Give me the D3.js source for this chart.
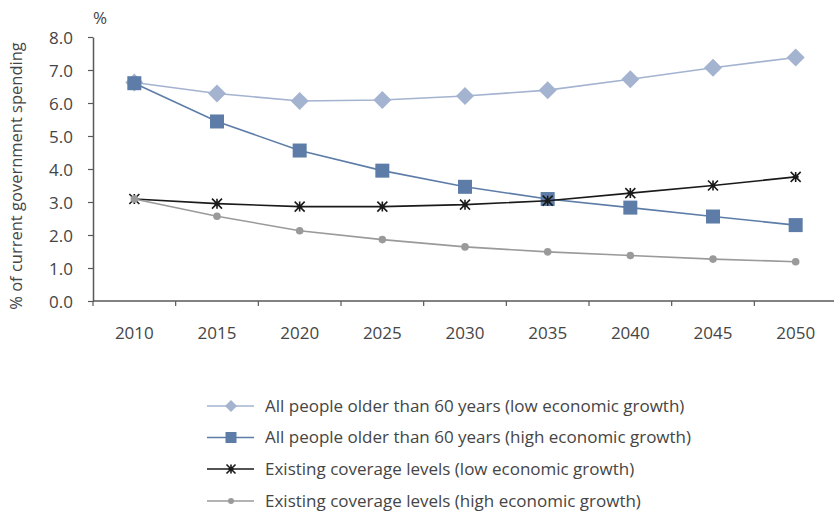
<!DOCTYPE html>
<html><head><meta charset="utf-8">
<script src="https://cdn.jsdelivr.net/npm/d3@7"></script>
<style>
body{margin:0;background:#fff;}
text{font-family:"Open Sans",sans-serif;fill:#454545;}
</style></head>
<body><svg id="c" width="834" height="513"></svg>
<script>
const years = ["2010","2015","2020","2025","2030","2035","2040","2045","2050"];
const allLow = [6.62,6.29,6.06,6.09,6.21,6.39,6.72,7.07,7.38];
const allHigh = [6.60,5.44,4.56,3.95,3.46,3.09,2.83,2.56,2.30];
const existLow = [3.09,2.95,2.86,2.86,2.92,3.04,3.27,3.50,3.76];
const existHigh = [3.09,2.57,2.13,1.86,1.64,1.49,1.38,1.27,1.19];
const yTicks = [0,1,2,3,4,5,6,7,8];
const seriesNames = [
  "All people older than 60 years (low economic growth)",
  "All people older than 60 years (high economic growth)",
  "Existing coverage levels (low economic growth)",
  "Existing coverage levels (high economic growth)"
];
const series = [
  {name:seriesNames[0], values:allLow, color:"#a3b3d0", marker:"diamond"},
  {name:seriesNames[1], values:allHigh, color:"#5d7da8", marker:"square"},
  {name:seriesNames[2], values:existLow, color:"#1a1a1a", marker:"star"},
  {name:seriesNames[3], values:existHigh, color:"#9a9a9a", marker:"circle"}
];

const svg = d3.select("#c");
const x = d3.scaleBand().domain(years).range([93,837]);
const y = d3.scaleLinear().domain([0,8]).range([301,37]);

// axes
const yAxis = d3.axisLeft(y).tickValues(yTicks).tickFormat(d3.format(".1f")).tickSize(5).tickSizeOuter(0);
const gy = svg.append("g").attr("transform","translate(93,0)").call(yAxis);
gy.select(".domain").attr("stroke","#595959").attr("stroke-width",1.5);
gy.selectAll(".tick line").attr("stroke","#595959").attr("stroke-width",1.2);
gy.selectAll(".tick text").attr("x",-20).attr("dy","0.36em").style("font-size","17px").attr("fill","#454545").style("font-family","'Open Sans',sans-serif");

const gx = svg.append("g").attr("transform","translate(0,301)");
gx.append("line").attr("x1",93).attr("x2",834).attr("y1",0).attr("y2",0).attr("stroke","#595959").attr("stroke-width",1.5);
gx.selectAll("line.t").data(years).join("line").attr("class","t")
  .attr("x1",d=>x(d)).attr("x2",d=>x(d)).attr("y1",0).attr("y2",5).attr("stroke","#595959").attr("stroke-width",1.2);
gx.selectAll("text").data(years).join("text")
  .attr("x",d=>x(d)+x.bandwidth()/2).attr("y",38).attr("text-anchor","middle")
  .style("font-size","17px").text(d=>d);

svg.append("text").attr("x",100).attr("y",24).attr("text-anchor","middle").style("font-size","17px").text("%");
svg.append("text").attr("transform","translate(22,176) rotate(-90)").attr("text-anchor","middle")
  .style("font-size","16.5px").text("% of current government spending");

function drawMarker(g, type, color, size){
  if(type==="diamond"){
    const s=size||9;
    g.append("path").attr("d",`M0,${-s}L${s},0L0,${s}L${-s},0Z`).attr("fill",color);
  } else if(type==="square"){
    const s=size||7;
    g.append("rect").attr("x",-s).attr("y",-s).attr("width",2*s).attr("height",2*s).attr("fill",color);
  } else if(type==="star"){
    const s=size||5;
    g.append("path").attr("d",`M${-s},${-s}L${s},${s}M${-s},${s}L${s},${-s}M0,${-s}L0,${s}M${-s*0.6},0L${s*0.6},0`)
      .attr("stroke",color).attr("stroke-width",1.6).attr("fill","none");
  } else {
    const s=size||3.8;
    g.append("circle").attr("r",s).attr("fill",color);
  }
}

const line = d3.line().x((d,i)=>x(years[i])+x.bandwidth()/2).y(d=>y(d));
series.forEach(s=>{
  const g = svg.append("g");
  g.append("path").datum(s.values).attr("d",line).attr("fill","none").attr("stroke",s.color).attr("stroke-width",1.6);
  s.values.forEach((v,i)=>{
    const m = g.append("g").attr("transform",`translate(${x(years[i])+x.bandwidth()/2},${y(v)})`);
    drawMarker(m, s.marker, s.color);
  });
});

// legend
const legY = [406,437.5,469,501];
const legSizes = {diamond:6,square:5.5,star:4.5,circle:3};
series.forEach((s,i)=>{
  const g = svg.append("g").attr("transform",`translate(0,${legY[i]})`);
  g.append("line").attr("x1",207).attr("x2",254).attr("stroke",s.color).attr("stroke-width",1.6);
  const m = g.append("g").attr("transform","translate(231,0)");
  drawMarker(m, s.marker, s.color, legSizes[s.marker]);
  g.append("text").attr("x",265).attr("dy","0.35em").style("font-size","17px").text(s.name);
});
</script></body></html>
